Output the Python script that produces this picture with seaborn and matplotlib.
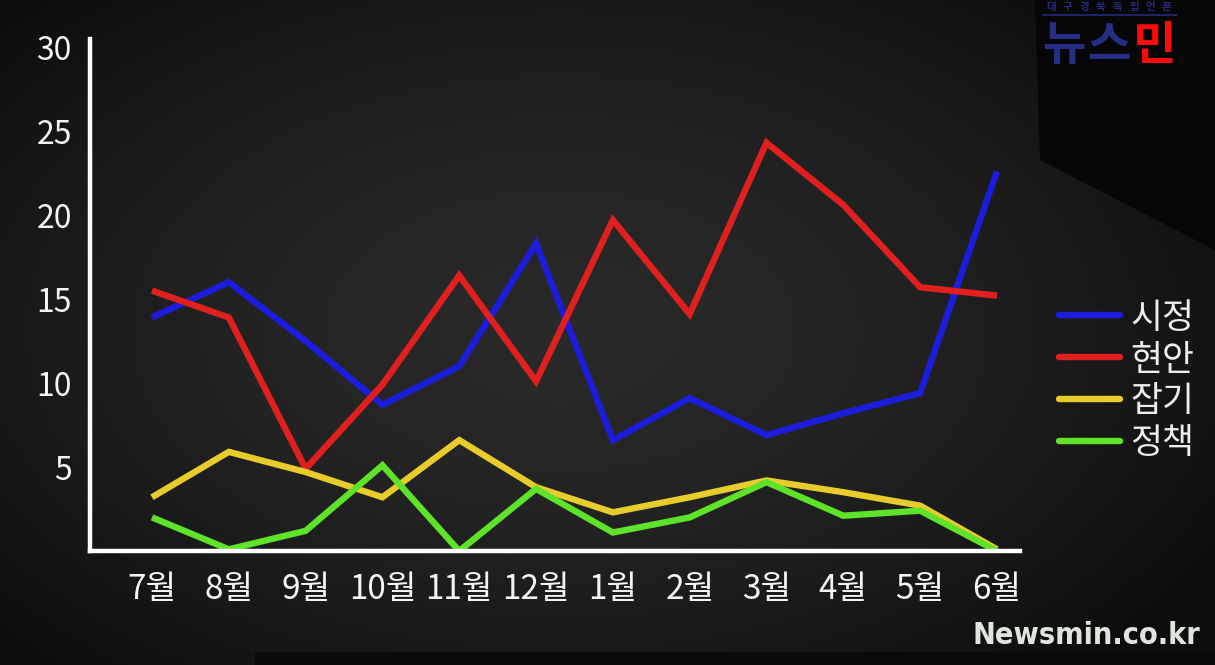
import numpy as np
import pandas as pd
import matplotlib
matplotlib.use("Agg")
import matplotlib.pyplot as plt
from matplotlib.lines import Line2D
from matplotlib.patches import Polygon
import seaborn as sns

months = ["7월", "8월", "9월", "10월", "11월", "12월", "1월", "2월", "3월", "4월", "5월", "6월"]
sijeong = [13.9, 16.0, 12.5, 8.7, 11.0, 18.3, 6.6, 9.1, 6.9, 8.2, 9.4, 22.6]
hyeonan = [15.5, 13.9, 4.9, 9.9, 16.4, 10.1, 19.7, 14.1, 24.3, 20.6, 15.7, 15.2]
japgi = [3.2, 5.9, 4.7, 3.2, 6.6, 3.8, 2.3, 3.2, 4.2, 3.5, 2.7, 0.1]
jeongchaek = [2.0, 0.1, 1.2, 5.1, 0.0, 3.7, 1.1, 2.0, 4.1, 2.1, 2.4, 0.0]
series_names = ["시정", "현안", "잡기", "정책"]
yticks = [5, 10, 15, 20, 25, 30]
colors = ["#1c1cdc", "#e0201e", "#e8cc2c", "#5ee22a"]
logo_small = "대구경북독립언론"

sns.set_theme(style="dark")
plt.rcParams['font.family'] = ['Noto Sans CJK KR', 'DejaVu Sans']

rows = []
for name, vals in zip(series_names, [sijeong, hyeonan, japgi, jeongchaek]):
    for i, (m, v) in enumerate(zip(months, vals)):
        rows.append({"idx": i, "month": m, "series": name, "value": v})
df = pd.DataFrame(rows)

W, H = 1215, 665
fig = plt.figure(figsize=(W / 100, H / 100), dpi=100)

# background gradient
bg = fig.add_axes([0, 0, 1, 1], zorder=0)
yy, xx = np.mgrid[0:H, 0:W]
r = np.sqrt(((xx - 560) / 700.0) ** 2 + ((yy - 330) / 420.0) ** 2)
shade = np.clip(0.165 - 0.10 * r ** 1.6, 0.05, 0.17)
img = np.dstack([shade * 1.0, shade * 0.985, shade * 0.985])
bg.imshow(img, extent=[0, W, H, 0], aspect='auto')
bg.add_patch(Polygon([[1035, 0], [W, 0], [W, 250], [1040, 160]], closed=True,
                     facecolor="#060606", edgecolor="none"))
bg.add_patch(Polygon([[255, 652], [W, 652], [W, H], [255, H]], closed=True,
                     facecolor="#0a0a0a", edgecolor="none"))
bg.plot([1043, 1177], [15, 15], color="#262a7a", lw=1.2)
bg.set_xlim(0, W)
bg.set_ylim(H, 0)
bg.axis('off')

ax = fig.add_axes([90 / W, 114 / H, 930 / W, 512.4 / H], zorder=1)
ax.patch.set_alpha(0)
sns.lineplot(data=df, x="idx", y="value", hue="series", palette=colors,
             hue_order=series_names, linewidth=4.6, ax=ax, legend=False,
             solid_joinstyle='miter', solid_capstyle='butt')
ax.set_xlim(-0.807, 11.3)
ax.set_ylim(0, 30.5)
ax.set_xticks(range(len(months)))
ax.set_xticklabels(months)
ax.set_yticks(yticks)
ax.set_yticklabels([str(t) for t in yticks])
ax.set_xlabel("")
ax.set_ylabel("")
ax.grid(False)
for s in ["top", "right"]:
    ax.spines[s].set_visible(False)
for s in ["left", "bottom"]:
    ax.spines[s].set_visible(True)
    ax.spines[s].set_color("white")
    ax.spines[s].set_linewidth(3.2)
ax.tick_params(axis='both', length=0, colors="#f4f4f4")
ax.tick_params(axis='y', pad=13, labelsize=23)
ax.tick_params(axis='x', pad=15, labelsize=24)

handles = [Line2D([0], [0], color=c, lw=4.6) for c in colors]
leg = fig.legend(handles, series_names, loc="center left", bbox_to_anchor=(1028 / W, 1 - 381 / H),
                 frameon=False, fontsize=25, handlelength=1.75, handletextpad=0.3,
                 labelspacing=0.2)
for t in leg.get_texts():
    t.set_color("#eeeeee")

# logo
for i, ch in enumerate(logo_small):
    fig.text((1051 + 16.5 * i) / W, 1 - 7 / H, ch, color="#262a7a", fontsize=7.5,
             ha="center", va="center", fontweight="bold")
for ch, cx, col in zip(["뉴", "스", "민"], [1064, 1109, 1155], ["#262d85", "#262d85", "#ff0a0a"]):
    fig.text(cx / W, 1 - 46 / H, ch, color=col, fontsize=34,
             ha="center", va="center", fontweight="bold")

# watermark
fig.text(1200 / W, 1 - 636 / H, "Newsmin.co.kr", color="#dde5dd", fontsize=22,
         ha="right", va="center", fontweight="bold", fontstretch="condensed",
         family=["DejaVu Sans"])

fig.savefig("out.png", dpi=100)
